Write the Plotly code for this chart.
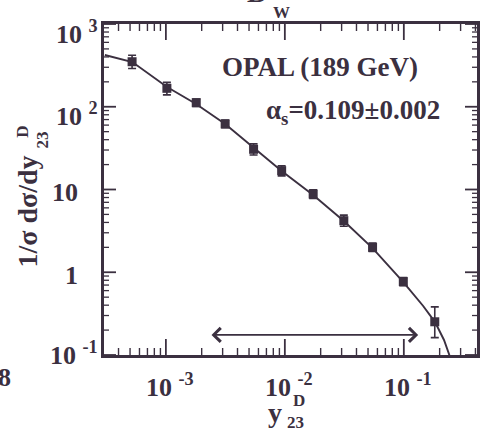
import math
import plotly.graph_objects as go

# Measured y23 distribution (OPAL, 189 GeV)
y23 = [5.2e-4, 1.02e-3, 1.8e-3, 3.15e-3, 5.46e-3, 9.4e-3, 0.0173, 0.0313, 0.0546, 0.099, 0.182]
rate = [350, 167, 112, 62, 30.6, 16.9, 8.8, 4.2, 2.0, 0.77, 0.252]
err_up = [70, 30, 12, 7, 5, 2.5, 1.1, 0.7, 0.25, 0.09, 0.13]
err_dn = [60, 28, 11, 6, 4.5, 2.3, 1.0, 0.6, 0.22, 0.08, 0.09]

# QCD fit curve
fit_y23 = [3.07e-4, 5.23e-4, 1.023e-3, 1.795e-3, 3.15e-3, 5.46e-3, 9.40e-3, 0.01728,
           0.0313, 0.0546, 0.0990, 0.1454, 0.183, 0.2176, 0.244, 0.255]
fit_rate = [422, 347, 173, 108, 61.9, 31.7, 16.7, 8.58, 4.16, 1.96, 0.762, 0.391,
            0.250, 0.152, 0.1, 0.08]

# Fit range
fit_lo, fit_hi = 2.35e-3, 0.132
fit_range_level = 0.175

# Tick labels
xtick_vals = [1e-3, 1e-2, 1e-1]
xtick_text = ["10&nbsp;<sup>-3</sup>", "10&nbsp;<sup>-2</sup>", "10&nbsp;<sup>-1</sup>"]
ytick_vals = [0.1, 1, 10, 100, 1000]
ytick_text = ["10&nbsp;<sup>-1</sup>", "1", "10", "10&nbsp;<sup>2</sup>", "10&nbsp;<sup>3</sup>"]

INK = "#3b3040"
FAMILY = "Liberation Serif"
W_FIG, H_FIG = 486, 433
L, T, PW, PH = 104, 24, 376, 331
XR = [-3.52, -0.385]
YR = [-1, 3]


def px(x):
    return (x - L) / PW


def py(y):
    return (T + PH - y) / PH


def font(size):
    return dict(family=FAMILY, size=size, color=INK, weight="bold")


def minor_ticks(lo, hi):
    vals = []
    for e in range(lo, hi):
        for m in range(2, 10):
            vals.append(m * 10.0 ** e)
    return vals


def frac(v, rng):
    return (math.log10(v) - rng[0]) / (rng[1] - rng[0])


fig = go.Figure()

fig.add_trace(go.Scatter(
    x=fit_y23, y=fit_rate, mode="lines",
    line=dict(color=INK, width=1.9), showlegend=False, hoverinfo="skip"))

fig.add_trace(go.Scatter(
    x=y23, y=rate, mode="markers",
    marker=dict(symbol="square", size=9, color=INK),
    error_y=dict(type="data", array=err_up, arrayminus=err_dn, symmetric=False,
                 color=INK, thickness=1.6, width=4),
    showlegend=False))

# inward ticks on all four sides of the frame
shapes = []
tick_style = dict(type="line", layer="above")
for vals, major in ((xtick_vals, True), (minor_ticks(-4, 0), False)):
    n = 16 if major else 7
    w = 1.8 if major else 1.4
    for v in vals:
        f = frac(v, XR)
        if not 0 <= f <= 1:
            continue
        for anchor, sign in ((0, 1), (1, -1)):
            shapes.append(dict(tick_style, xref="paper", yref="paper",
                               x0=f, x1=f, ysizemode="pixel", yanchor=anchor,
                               y0=0, y1=sign * n, line=dict(color=INK, width=w)))
for vals, major in ((ytick_vals, True), (minor_ticks(-1, 3), False)):
    n = 12 if major else 5
    w = 1.8 if major else 1.3
    for v in vals:
        f = frac(v, YR)
        if not 0 <= f <= 1:
            continue
        for anchor, sign in ((0, 1), (1, -1)):
            shapes.append(dict(tick_style, xref="paper", yref="paper",
                               y0=f, y1=f, xsizemode="pixel", xanchor=anchor,
                               x0=0, x1=sign * n, line=dict(color=INK, width=w)))

ann = []
# y tick labels
for v, t in zip(ytick_vals, ytick_text):
    has_exp = "<sup>" in t
    ann.append(dict(x=0, xref="paper", y=math.log10(v), yref="y", text=t,
                    showarrow=False, xanchor="right", yanchor="middle",
                    xshift=-4 if has_exp else -24,
                    yshift=2 if v == min(ytick_vals) else (-8 if has_exp else -3),
                    font=font(26)))
# x tick labels
for v, t in zip(xtick_vals, xtick_text):
    ann.append(dict(x=math.log10(v), xref="x", y=0, yref="paper", text=t,
                    showarrow=False, xanchor="center", yanchor="top",
                    xshift=4, yshift=-12, font=font(26)))

# axis titles
ann.append(dict(x=px(276), y=py(412), xref="paper", yref="paper", text="y",
                showarrow=False, xanchor="center", yanchor="middle", font=font(28)))
ann.append(dict(x=px(301), y=py(400), xref="paper", yref="paper", text="D",
                showarrow=False, xanchor="center", yanchor="middle", font=font(17)))
ann.append(dict(x=px(297), y=py(422), xref="paper", yref="paper", text="23",
                showarrow=False, xanchor="center", yanchor="middle", font=font(17)))

ann.append(dict(x=px(27), y=py(212), xref="paper", yref="paper", text="1/σ dσ/dy",
                showarrow=False, textangle=-90, xanchor="center", yanchor="middle",
                font=font(28)))
ann.append(dict(x=px(41), y=py(140), xref="paper", yref="paper", text="23",
                showarrow=False, textangle=-90, xanchor="center", yanchor="middle",
                font=font(17)))
ann.append(dict(x=px(21), y=py(132), xref="paper", yref="paper", text="D",
                showarrow=False, textangle=-90, xanchor="center", yanchor="middle",
                font=font(17)))

# plot labels
ann.append(dict(x=px(221), y=py(67), xref="paper", yref="paper", text="OPAL (189 GeV)",
                showarrow=False, xanchor="left", yanchor="middle", font=font(27)))
ann.append(dict(x=px(265), y=py(112), xref="paper", yref="paper",
                text="α<sub>s</sub>=0.109±0.002",
                showarrow=False, xanchor="left", yanchor="middle", font=font(27)))

# panel heading and neighbouring label
ann.append(dict(x=px(258), y=py(10), xref="paper", yref="paper", text="B",
                showarrow=False, xanchor="center", yanchor="bottom", font=font(28)))
ann.append(dict(x=px(283), y=py(13), xref="paper", yref="paper", text="W",
                showarrow=False, xanchor="center", yanchor="middle", font=font(17)))
ann.append(dict(x=px(12), y=py(377), xref="paper", yref="paper", text="8",
                showarrow=False, xanchor="right", yanchor="middle", font=font(26)))

# fit range double arrow
ann.append(dict(x=math.log10(fit_hi), y=math.log10(fit_range_level), xref="x", yref="y",
                ax=math.log10(fit_lo), ay=math.log10(fit_range_level), axref="x", ayref="y",
                text="", showarrow=True, arrowside="end+start", arrowhead=4,
                arrowsize=1.7, arrowwidth=1.6, arrowcolor=INK))

axis_common = dict(showgrid=False, zeroline=False, showline=True, linecolor=INK,
                   linewidth=2.5, mirror=True, ticks="", showticklabels=False)

fig.update_layout(
    width=W_FIG, height=H_FIG,
    margin=dict(l=L, r=W_FIG - L - PW, t=T, b=H_FIG - T - PH),
    paper_bgcolor="white", plot_bgcolor="white",
    annotations=ann, shapes=shapes,
    xaxis=dict(axis_common, type="log", range=XR),
    yaxis=dict(axis_common, type="log", range=YR),
)

fig.write_html("out.html")
